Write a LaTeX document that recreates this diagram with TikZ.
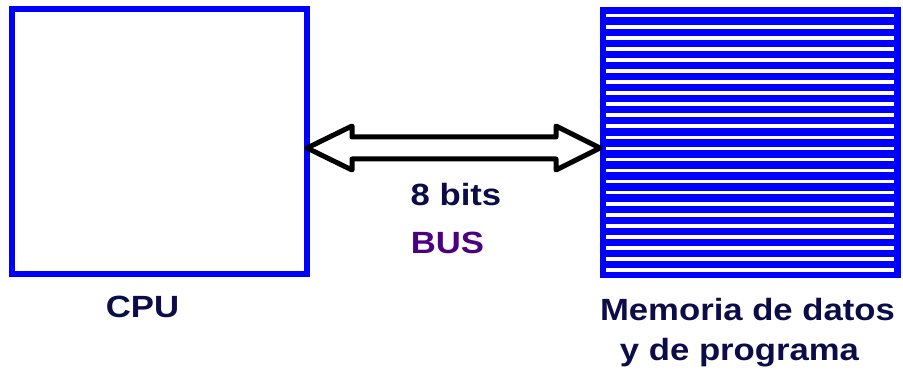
\documentclass[tikz,border=0pt]{standalone}
\usepackage{fontspec}
\setmainfont{Liberation Sans}
\usetikzlibrary{calc}
\definecolor{boxblue}{RGB}{0,0,255}
\definecolor{labelnavy}{RGB}{12,12,72}
\definecolor{buspurple}{RGB}{75,0,130}

\begin{document}
\begin{tikzpicture}[x=1pt,y=-1pt,
  cpubox/.style={draw=boxblue, line width=6pt, inner sep=0pt, outer sep=0pt,
    minimum width=295pt, minimum height=265pt},
  membox/.style={fill=boxblue, inner sep=0pt, outer sep=0pt,
    minimum width=301pt, minimum height=271pt},
  memline/.style={white, line width=3.6pt},
  bus/.style={draw=black, fill=white, line width=5pt, line join=round},
  lbl/.style={font=\fontsize{30.7}{40}\selectfont\bfseries, text=labelnavy,
    inner sep=0pt, xscale=1.13, anchor=base},
  buslbl/.style={lbl, text=buspurple}
]
\useasboundingbox (0,0) rectangle (903,377);

% processor block
\node[cpubox] (cpu) at (159.5,141.5) {};

% memory block: blue body crossed by white rows
\node[membox] (mem) at (750.5,142.5) {};
\foreach \i in {0,...,23}
  \draw[memline] ($(mem.north west)+(6,8.7+\i*11.06)$) -- ++(288,0);

% bidirectional bus arrow
\coordinate (busL) at ($(cpu.east)+(0,6.5)$);
\coordinate (busR) at ($(mem.west)+(0,5.5)$);
\draw[bus] (busL) -- ++(45,-22) -- ++(0,11) -- ($(busR)+(-44,-11)$)
  -- ++(0,-11) -- (busR) -- ++(-44,22) -- ++(0,-11)
  -- ($(busL)+(45,11)$) -- ++(0,11) -- cycle;

% labels
\node[lbl] (cpulbl) at (142.5,317.7) {CPU};
\node[lbl] (bits) at (456,206) {8 bits};
\node[buslbl] (buslabel) at (447.5,253.3) {BUS};
\node[lbl] (memlbl1) at (747.5,320) {Memoria de datos};
\node[lbl] (memlbl2) at (739.5,360) {y de programa};
\end{tikzpicture}
\end{document}
